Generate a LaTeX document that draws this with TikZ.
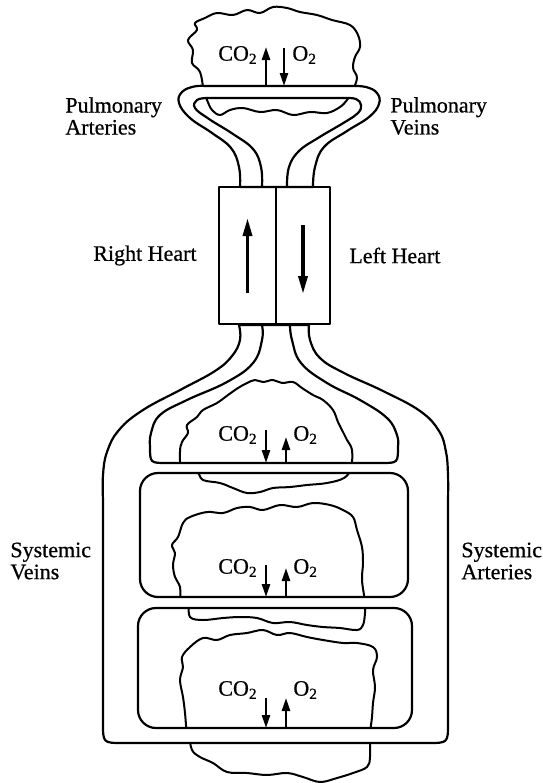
\documentclass[tikz,border=0pt]{standalone}
\usepackage{fontspec}
\setmainfont{Liberation Serif}[FakeBold=0.6]
\usetikzlibrary{positioning,arrows.meta}

\begin{document}
\begin{tikzpicture}[x=0.5pt,y=-0.5pt,
  font=\fontsize{11}{11}\selectfont,
  wall/.style={line width=1.1pt, line join=round},
  tube/.style={draw, wall, fill=white, even odd rule},
  tissue/.style={line width=1pt, fill=white, line join=round},
  gas/.style={line width=1.2pt, -{Triangle[length=6.5pt,width=4pt]}},
  pump/.style={line width=1.7pt, -{Triangle[length=9pt,width=4.5pt]}},
  lbl/.style={inner sep=0pt, align=left},
  chamber/.style={draw, wall, inner sep=0pt, outer sep=0pt, minimum height=68.5pt}]

\useasboundingbox (0,0) rectangle (542,783);

% --- tissue beds (drawn first, the tubes cover them) ---
\draw[tissue] plot[smooth cycle, tension=0.6] coordinates {
  (204,92) (200,72) (192,63) (193,50) (188,40) (197,30) (195,23) (205,18)
  (217,13) (233,15) (247,10) (260,13) (273,7) (287,8) (300,12) (317,15)
  (332,20) (350,25) (358,35) (360,47) (355,57) (353,68) (357,78) (352,92)
  (347,100) (340,107) (327,113) (310,112) (293,115) (277,110) (260,112)
  (243,108) (230,110) (220,115) (212,110) (207,100)};
\draw[tissue] plot[smooth cycle, tension=0.6] coordinates {
  (182,468) (180,452) (182,442) (188,433) (187,425) (197,417) (203,410)
  (217,403) (228,395) (238,388) (247,383) (255,380) (263,382) (273,380)
  (282,383) (293,382) (302,388) (313,395) (323,400) (333,410) (338,422)
  (343,432) (347,440) (352,450) (351,468) (344,478) (327,483) (307,485)
  (290,487) (273,488) (260,492) (247,493) (233,488) (220,483) (203,480)
  (197,472)};
\draw[tissue] plot[smooth cycle, tension=0.6] coordinates {
  (181,602) (180,587) (175,577) (173,565) (175,553) (172,545) (178,537)
  (183,523) (190,517) (207,512) (223,513) (237,508) (250,507) (263,510)
  (280,505) (297,507) (313,503) (330,505) (343,510) (353,517) (357,530)
  (362,547) (363,563) (362,580) (365,602) (365,613) (363,625) (357,630)
  (340,628) (323,627) (307,625) (290,622) (273,623) (257,618) (240,617)
  (223,618) (203,620) (190,617) (188,603)};
\draw[tissue] plot[smooth cycle, tension=0.6] coordinates {
  (187,735) (185,713) (183,697) (180,680) (183,667) (182,657) (190,647)
  (203,638) (217,640) (230,635) (247,633) (263,630) (277,635) (290,633)
  (307,637) (323,640) (343,643) (357,643) (373,647) (377,657) (373,670)
  (375,687) (373,703) (372,717) (370,735) (370,757) (367,767) (353,773)
  (337,778) (320,782) (303,777) (287,773) (267,775) (247,773) (227,772)
  (213,763) (200,757) (192,750) (189,736)};

% --- pulmonary loop ---
\path[tube] (240,187)
  -- plot[smooth, tension=0.7] coordinates {(240,187) (239,167) (231,148)
     (212,133) (190,118) (179,103) (182,92) (194,86.5) (205,86)}
  -- (352,86)
  -- plot[smooth, tension=0.7] coordinates {(352,86) (366,87) (377,93)
     (379,104) (369,117) (347,131) (324,147) (315,167) (313,187)}
  -- cycle
  (262,187)
  -- plot[smooth, tension=0.7] coordinates {(262,187) (261,167) (253,149)
     (233,134) (209,119) (195,108) (197,100) (207,98)}
  -- (345,98)
  -- plot[smooth, tension=0.7] coordinates {(345,98) (356,99) (361,105)
     (358,113) (345,122) (318,138) (299,151) (289,167) (287,187)}
  -- cycle;

% --- systemic loops ---
\path[tube] (239,325)
  -- plot[smooth, tension=0.7] coordinates {(239,325) (240,340) (232,356)
     (215,371) (182,389) (143,410) (119,430) (107,452) (103,475) (103,500)}
  -- (103,723) .. controls (103,743) .. (123,743)
  -- (428,743) .. controls (448,743) .. (448,723)
  -- plot[smooth, tension=0.7] coordinates {(448,500) (448,475) (446,452)
     (439,431) (420,411) (383,391) (344,373) (320,358) (310,340) (309,325)}
  -- cycle
  (262,325)
  -- plot[smooth, tension=0.7] coordinates {(262,325) (262,340) (253,363)
     (227,382) (187,400) (160,415) (151,433) (150,446)}
  .. controls (150,463) .. (167,463)
  -- (381,463) .. controls (398,463) .. (398,446)
  -- plot[smooth, tension=0.7] coordinates {(398,446) (397,435) (387,418)
     (360,400) (327,383) (301,363) (292,340) (290,325)}
  -- cycle
  [rounded corners=9pt] (140,473) rectangle (408,597)
  (138,608) rectangle (412,728);

% --- heart ---
\node[chamber, minimum width=28.5pt] (rheart) at (247.5,255.5) {};
\node[chamber, minimum width=27pt, right=0pt of rheart] (lheart) {};
\draw[pump] ([yshift=-18.75pt]rheart.center) -- ([yshift=18.75pt]rheart.center);
\draw[pump] ([yshift=15.25pt]lheart.center) -- ([yshift=-19.25pt]lheart.center);

\node[lbl, left=11pt of rheart] (rlbl) {Right Heart};
\node[lbl, right=9.5pt of lheart] (llbl) {Left Heart};

% --- vessel labels ---
\node[lbl, anchor=west] (partlbl) at (65,116) {Pulmonary\\Arteries};
\node[lbl, anchor=west] (pvnlbl) at (390,116) {Pulmonary\\Veins};
\node[lbl, anchor=west] (svnlbl) at (10,561) {Systemic\\Veins};
\node[lbl, anchor=west] (sartlbl) at (461,561) {Systemic\\Arteries};

% --- gas exchange, lung ---
\coordinate (colung-bot) at (266,86);
\coordinate (colung-top) at (266,47);
\coordinate (oxlung-bot) at (284,86);
\coordinate (oxlung-top) at (284,48);
\node[lbl, anchor=east] (colung) at (258,55) {CO\textsubscript{2}};
\node[lbl, anchor=west] (oxlung) at (292,55) {O\textsubscript{2}};
\draw[gas] (colung-bot) -- (colung-top);
\draw[gas] (oxlung-top) -- (oxlung-bot);

% --- gas exchange, body ---
\foreach \nm/\wy/\ly/\ct/\ot in {a/463/435/430/437, b/597/568/565/568, c/728/690/698/698}{
  \coordinate (co\nm-top) at (266,\ct);
  \coordinate (co\nm-bot) at (266,\wy);
  \coordinate (ox\nm-top) at (286,\ot);
  \coordinate (ox\nm-bot) at (286,\wy);
  \node[lbl, anchor=east] (co\nm) at (258,\ly) {CO\textsubscript{2}};
  \node[lbl, anchor=west] (ox\nm) at (293,\ly) {O\textsubscript{2}};
  \draw[gas] (co\nm-top) -- (co\nm-bot);
  \draw[gas] (ox\nm-bot) -- (ox\nm-top);
}

\end{tikzpicture}
\end{document}
